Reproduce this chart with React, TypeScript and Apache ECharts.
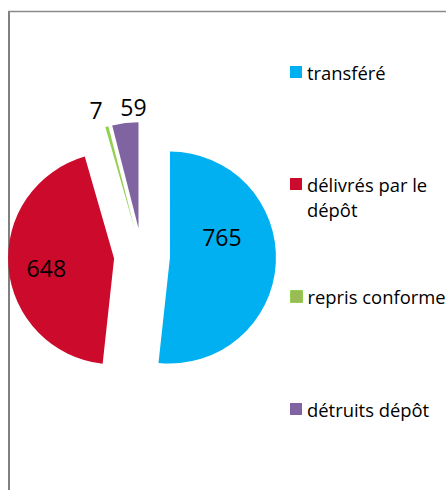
import React, { useEffect, useRef } from 'react';
import * as echarts from 'echarts';

const categories = ['transféré', 'délivrés par le dépôt', 'repris conforme', 'détruits dépôt'];
const values = [765, 648, 7, 59];
const colors = ['#00b0f0', '#cc0a2c', '#92d050', '#8064a2'];

const FONT = 'Open Sans';
const labelShift = [[-4, -24], [-12, 5], [-24, -65], [2, -66]];
const legendCenters = [72, 184, 296.5, 409];
const LH = 25;

export default function App() {
  const ref = useRef<HTMLDivElement>(null);
  useEffect(() => {
    if (!ref.current) return;
    const chart = echarts.init(ref.current, undefined, { renderer: 'svg' });
    const legends = categories.map((name, i) => {
      const twoLine = name === 'délivrés par le dépôt';
      const top = twoLine ? legendCenters[i] - 1.5 * LH : legendCenters[i] - LH / 2;
      const itemStyle: any = i === 2
        ? { color: '#9bbb59', borderColor: '#92d050', borderWidth: 1 }
        : { borderWidth: 0 };
      return {
        data: [name],
        orient: 'vertical',
        left: 290,
        top,
        padding: 0,
        icon: 'rect',
        itemWidth: 12,
        itemHeight: 12,
        selectedMode: false,
        itemStyle,
        formatter: (n: string) => (n === 'délivrés par le dépôt' ? ' \ndélivrés par le\ndépôt' : n),
        textStyle: {
          fontFamily: FONT,
          fontSize: 18.4,
          color: '#000',
          lineHeight: LH,
        },
      };
    });
    chart.setOption({
      animation: false,
      backgroundColor: '#fff',
      legend: legends,
      graphic: [
        { type: 'line', shape: { x1: 9, y1: 11, x2: 9, y2: 490 }, style: { stroke: '#808080', lineWidth: 2 } },
        { type: 'line', shape: { x1: 8, y1: 11.5, x2: 446, y2: 11.5 }, style: { stroke: '#8a8a8a', lineWidth: 1.5 } },
      ],
      series: [
        {
          type: 'pie',
          center: [142, 256],
          radius: [0, 106],
          startAngle: 90,
          clockwise: true,
          selectedMode: 'multiple',
          selectedOffset: 28,
          avoidLabelOverlap: false,
          emphasis: { disabled: true },
          itemStyle: { borderWidth: 0 },
          label: {
            show: true,
            position: 'inside',
            fontFamily: FONT,
            fontSize: 23,
            color: '#000',
            formatter: '{c}',
          },
          labelLine: { show: false },
          labelLayout: (p: any) => ({ dx: labelShift[p.dataIndex][0], dy: labelShift[p.dataIndex][1] }),
          data: categories.map((name, i) => ({
            name,
            value: values[i],
            selected: true,
            itemStyle: { color: colors[i] },
          })),
        },
      ],
    });
    return () => chart.dispose();
  }, []);
  return (
    <div
      ref={ref}
      style={{ position: 'fixed', left: 0, top: 0, width: 446, height: 490 }}
    />
  );
}
